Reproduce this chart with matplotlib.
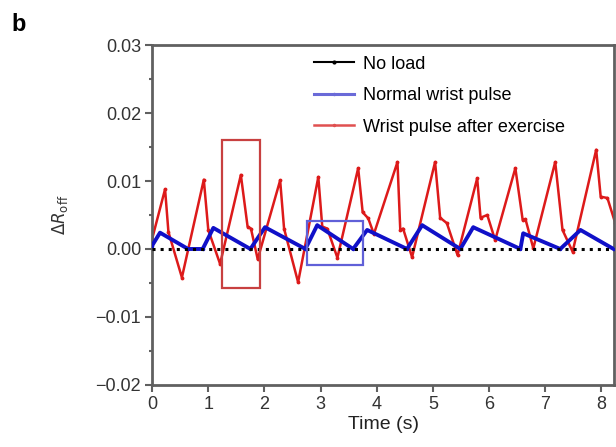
import numpy as np
import matplotlib
matplotlib.use('Agg')
import matplotlib.pyplot as plt
from matplotlib.patches import Rectangle
from matplotlib.lines import Line2D
from matplotlib.ticker import MultipleLocator

plt.rcParams['font.family'] = ['Liberation Sans', 'DejaVu Sans']

# wrist pulse after exercise (red): peak, fast drop, notch, trough for each beat
t_red = [0.00, 0.23, 0.29, 0.53,
         0.92, 1.00, 1.21,
         1.58, 1.70, 1.76, 1.88,
         2.28, 2.35, 2.60,
         2.96, 3.03, 3.12, 3.30,
         3.67, 3.75, 3.85, 3.95,
         4.37, 4.42, 4.47, 4.63,
         5.04, 5.13, 5.25, 5.44,
         5.79, 5.85, 5.97, 6.11,
         6.47, 6.60, 6.65, 6.79,
         7.18, 7.31, 7.49,
         7.91, 7.99, 8.11, 8.25]
v_red = [0.0015, 0.0088, 0.0025, -0.0042,
         0.0102, 0.0028, -0.0022,
         0.0109, 0.0033, 0.0030, -0.0015,
         0.0101, 0.0030, -0.0049,
         0.0106, 0.0033, 0.0030, -0.0013,
         0.0119, 0.0054, 0.0045, 0.0022,
         0.0128, 0.0028, 0.0030, -0.0012,
         0.0128, 0.0046, 0.0038, -0.0009,
         0.0104, 0.0046, 0.0050, 0.0013,
         0.0119, 0.0043, 0.0044, 0.0001,
         0.0128, 0.0028, -0.0004,
         0.0146, 0.0077, 0.0075, 0.0038]

# normal wrist pulse (blue)
t_blue = [0.00, 0.14, 0.64, 0.90, 1.09, 1.75, 2.01, 2.73, 2.94, 3.58, 3.83,
          4.54, 4.81, 5.49, 5.72, 6.56, 6.61, 7.27, 7.63, 8.22]
v_blue = [0.0005, 0.0024, 0.0000, 0.0000, 0.0031, 0.0000, 0.0032, 0.0000, 0.0035, 0.0000, 0.0028,
          0.0000, 0.0035, 0.0000, 0.0032, 0.0000, 0.0023, 0.0000, 0.0028, 0.0000]

# no load (black)
t_none = [0.0, 8.25]
v_none = [0.0, 0.0]

fig = plt.figure(figsize=(6.16, 4.47), dpi=100)
ax = fig.add_axes([0.247, 0.139, 0.75, 0.76])

ax.plot(t_none, v_none, color='black', ls=':', lw=2.2, zorder=4)
ax.plot(t_red, v_red, color='#dd1a1a', lw=1.8, marker='.', ms=3.5, zorder=2)
ax.plot(t_blue, v_blue, color='#1010c8', lw=2.8, marker='.', ms=3, zorder=3)

# highlight boxes
ax.add_patch(Rectangle((1.25, -0.0057), 0.68, 0.0217, fill=False, ec='#c84040', lw=1.6, zorder=5))
ax.add_patch(Rectangle((2.76, -0.0024), 1.0, 0.0065, fill=False, ec='#6060d8', lw=1.6, zorder=5))

ax.set_xlim(0, 8.23)
ax.set_ylim(-0.02, 0.03)
ax.set_xticks(range(0, 9))
ax.set_yticks([-0.02, -0.01, 0.0, 0.01, 0.02, 0.03])
ax.set_yticklabels(['\u22120.02', '\u22120.01', '0.00', '0.01', '0.02', '0.03'])
ax.yaxis.set_minor_locator(MultipleLocator(0.005))
for s in ax.spines.values():
    s.set_color('#606060')
    s.set_linewidth(2)
ax.tick_params(which='major', direction='out', length=5, width=1.5, color='#606060',
               labelsize=13, labelcolor='#333333', pad=3)
ax.tick_params(which='minor', direction='out', length=2, width=1.5, color='#606060')

ax.set_xlabel('Time (s)', fontsize=14, color='#222222', labelpad=2)
ax.set_ylabel(r'$\Delta R_{\mathrm{off}}$', fontsize=12, color='#333333', labelpad=18)

handles = [Line2D([], [], color='black', lw=1.5, marker='.', ms=4),
           Line2D([], [], color='#6a6ad8', lw=2.2, marker='.', ms=3),
           Line2D([], [], color='#e05050', lw=1.8, marker='.', ms=3)]
labels = ['No load', 'Normal wrist pulse', 'Wrist pulse after exercise']
ax.legend(handles, labels, loc='upper left', frameon=False, fontsize=13,
          handlelength=2.2, handletextpad=0.5, borderaxespad=0.0, labelspacing=0.8,
          bbox_to_anchor=(0.335, 0.99))

fig.text(0.018, 0.93, 'b', fontsize=17, fontweight='bold')

fig.savefig('out.png', dpi=100)
